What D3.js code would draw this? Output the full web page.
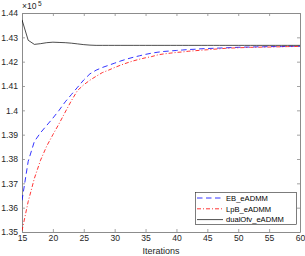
<!DOCTYPE html>
<html><head><meta charset="utf-8">
<script src="https://cdn.jsdelivr.net/npm/d3@7"></script>
<style>body{margin:0;background:#fff}svg{display:block;font-family:"Liberation Sans",Arial,sans-serif}</style>
</head><body>
<script>
const iterations = d3.range(15, 61);
const xTicks = [15,20,25,30,35,40,45,50,55,60];
const yTicks = [1.35,1.36,1.37,1.38,1.39,1.40,1.41,1.42,1.43,1.44];
const seriesNames = ["EB_eADMM","LpB_eADMM","dualOfv_eADMM"];
// values in units of 10^5
const ebValues = [1.3630,1.3790,1.3872,1.3908,1.3938,1.3968,1.4000,1.4035,1.4065,1.4095,
  1.4125,1.4150,1.4165,1.4176,1.4185,1.4194,1.4203,1.4211,1.4218,1.4224,
  1.4230,1.4235,1.4239,1.4242,1.4244,1.4246,1.4248,1.4250,1.4251,1.4253,
  1.4254,1.4255,1.4256,1.4257,1.4258,1.4259,1.4260,1.4260,1.4261,1.4261,
  1.4262,1.4262,1.4262,1.4263,1.4263,1.4263];
const lpbValues = [1.3505,1.3625,1.3720,1.3795,1.3853,1.3900,1.3945,1.3993,1.4040,1.4082,
  1.4105,1.4124,1.4140,1.4155,1.4165,1.4176,1.4186,1.4195,1.4203,1.4210,
  1.4216,1.4221,1.4228,1.4232,1.4235,1.4238,1.4240,1.4243,1.4245,1.4247,
  1.4249,1.4251,1.4253,1.4255,1.4256,1.4257,1.4258,1.4259,1.4259,1.4260,
  1.4260,1.4261,1.4261,1.4262,1.4262,1.4263];
const dualValues = [1.4372,1.4288,1.4271,1.4274,1.4278,1.4280,1.4279,1.4278,1.4276,1.4273,
  1.4270,1.4268,1.4267,1.4267,1.4267,1.4267,1.4267,1.4267,1.4267,1.4267,
  1.4267,1.4267,1.4267,1.4267,1.4267,1.4267,1.4267,1.4267,1.4267,1.4267,
  1.4267,1.4267,1.4267,1.4267,1.4267,1.4267,1.4267,1.4267,1.4267,1.4267,
  1.4267,1.4267,1.4267,1.4267,1.4267,1.4267];

const W = 305, H = 256;
const m = {l:22, r:5, t:13, b:24};
const svg = d3.select("body").append("svg").attr("width", W).attr("height", H);
const x = d3.scaleLinear().domain([15,60]).range([m.l, W - m.r]);
const y = d3.scaleLinear().domain([1.35,1.44]).range([H - m.b, m.t]);
const axisColor = "#8c8c8c";
const fmt = v => String(+v.toFixed(2));

// axes
const gx = svg.append("g").attr("transform", `translate(0,${H - m.b})`)
  .call(d3.axisBottom(x).tickValues(xTicks).tickSizeInner(-3).tickSizeOuter(0).tickPadding(2.5));
const gxTop = svg.append("g").attr("transform", `translate(0,${m.t})`)
  .call(d3.axisTop(x).tickValues(xTicks).tickSizeInner(-3).tickSizeOuter(0).tickFormat(""));
const gy = svg.append("g").attr("transform", `translate(${m.l},0)`)
  .call(d3.axisLeft(y).tickValues(yTicks).tickSizeInner(-3).tickSizeOuter(0).tickPadding(4).tickFormat(fmt));
const gyR = svg.append("g").attr("transform", `translate(${W - m.r},0)`)
  .call(d3.axisRight(y).tickValues(yTicks).tickSizeInner(-3).tickSizeOuter(0).tickFormat(""));
[gx,gxTop,gy,gyR].forEach(g => {
  g.selectAll("path.domain").attr("stroke", axisColor).attr("stroke-width", 1);
  g.selectAll(".tick line").attr("stroke", axisColor).attr("stroke-width", 0.8);
  g.selectAll("text").attr("fill", "#262626").attr("font-size", 8.6).attr("font-family", '"Liberation Sans",Arial,sans-serif');
});
gx.selectAll(".tick line").attr("y2", -3);
gx.selectAll(".tick text").attr("y", 2.5);

// exponent label
const ex = svg.append("text").attr("x", m.l).attr("y", 9).attr("font-size", 8.6).attr("fill", "#262626");
ex.append("tspan").text("×10");
ex.append("tspan").attr("dy", -3).attr("dx", 1.5).attr("font-size", 6.5).text("5");

// x label
svg.append("text").attr("x", (m.l + W - m.r) / 2).attr("y", 253.5).attr("text-anchor", "middle")
  .attr("font-size", 9).attr("fill", "#262626").text("Iterations");

svg.append("clipPath").attr("id","c").append("rect")
  .attr("x", m.l).attr("y", m.t).attr("width", W - m.r - m.l).attr("height", H - m.b - m.t);
const line = d3.line().x((d,i) => x(iterations[i])).y(d => y(d));
const styles = [
  {vals: ebValues, color: "#0000ff", dash: "5.5,3.5", w: 0.8},
  {vals: lpbValues, color: "#ff0000", dash: "4,2,1,2", w: 0.8},
  {vals: dualValues, color: "#000000", dash: null, w: 0.7}
];
const lg = svg.append("g").attr("clip-path","url(#c)");
styles.forEach(s => {
  lg.append("path").datum(s.vals).attr("d", line).attr("fill","none")
    .attr("stroke", s.color).attr("stroke-width", s.w).attr("stroke-dasharray", s.dash);
});

// legend
const leg = svg.append("g");
leg.append("rect").attr("x", 195.5).attr("y", 192.5).attr("width", 101).attr("height", 32)
  .attr("fill", "#fff").attr("stroke", "#262626").attr("stroke-width", 0.6);
seriesNames.forEach((n,i) => {
  const yy = 198 + i * 10.8;
  leg.append("line").attr("x1", 197).attr("x2", 223).attr("y1", yy).attr("y2", yy)
    .attr("stroke", styles[i].color).attr("stroke-width", styles[i].w).attr("stroke-dasharray", styles[i].dash);
  leg.append("text").attr("x", 226).attr("y", yy + 2.7).attr("font-size", 7.6).attr("fill", "#000").text(n);
});
</script>
</body></html>
